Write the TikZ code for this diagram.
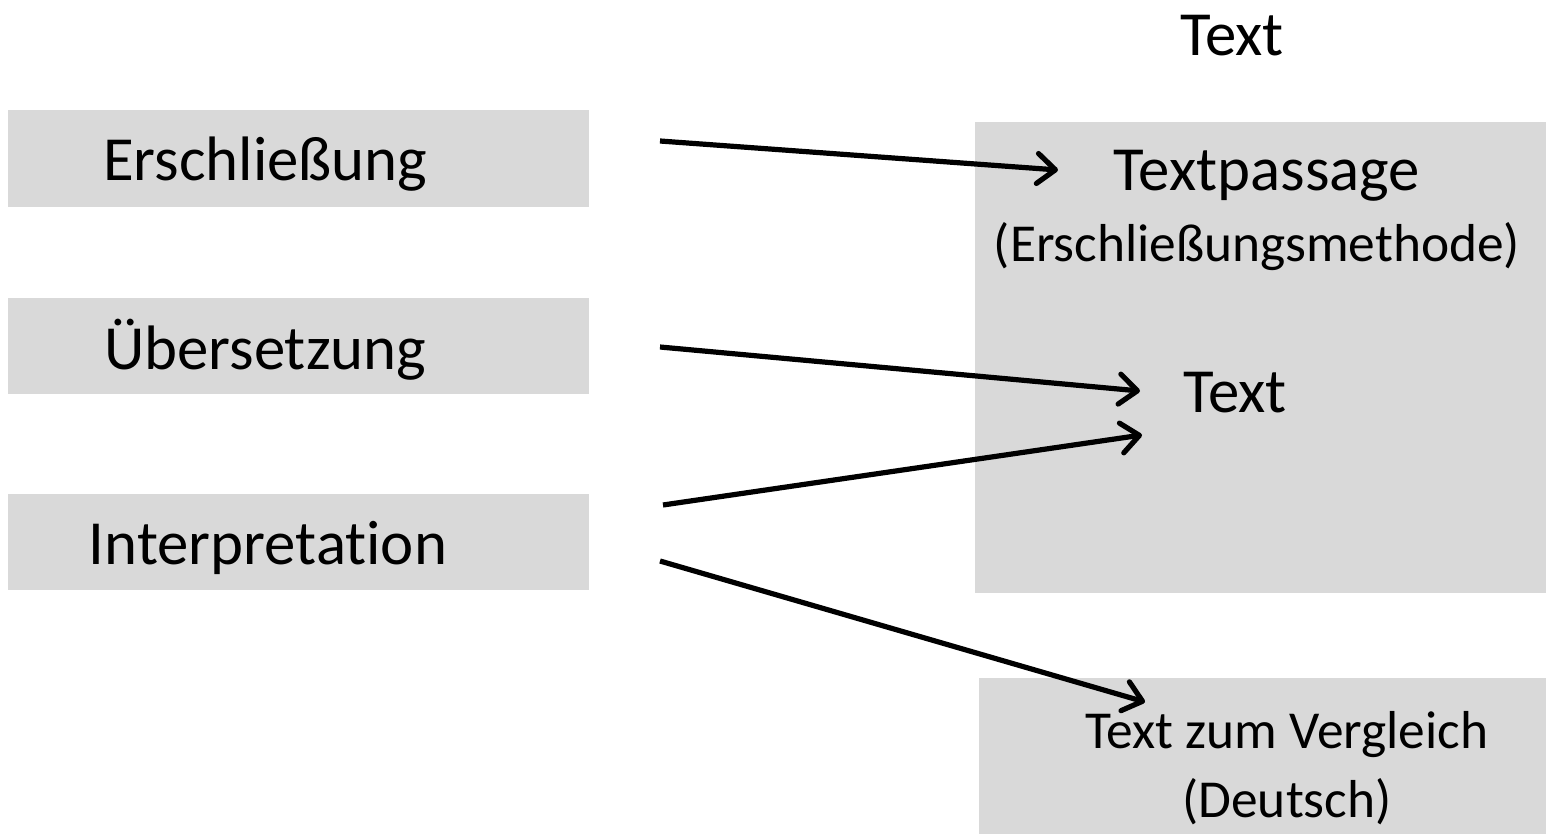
\documentclass[tikz,border=0pt]{standalone}
\usepackage{fontspec}
\setmainfont[Ligatures={NoCommon}]{Carlito}
\usetikzlibrary{arrows.meta}
\begin{document}
\begin{tikzpicture}[x=0.5pt,y=-0.5pt,
  box/.style={fill=boxgray,draw=none,inner sep=0pt,anchor=north west},
  big/.style={font=\fontsize{31.4}{36}\selectfont,inner sep=0pt},
  small/.style={font=\fontsize{26.7}{32}\selectfont,inner sep=0pt},
  conn/.style={line width=2.6pt,-{Straight Barb[length=9pt,width=15pt,line width=2.6pt,round]}}]
\definecolor{boxgray}{RGB}{217,217,217}
\path[use as bounding box] (0,0) rectangle (1546,834);
% left boxes
\node[box,minimum width=581*0.5pt,minimum height=97*0.5pt] (b1) at (8,110) {};
\node[box,minimum width=581*0.5pt,minimum height=96*0.5pt] (b2) at (8,298) {};
\node[box,minimum width=581*0.5pt,minimum height=96*0.5pt] (b3) at (8,494) {};
\node[big] (t1) at (265,164) {Erschließung};
\node[big] (t2) at (265,350) {Übersetzung};
\node[big] (t3) at (268,548) {Interpretation};
% right boxes
\node[box,minimum width=571*0.5pt,minimum height=471*0.5pt] (rb) at (975,122) {};
\node[box,minimum width=567*0.5pt,minimum height=156*0.5pt] (bb) at (979,678) {};
\node[big] (top) at (1232,36) {Text};
\node[big] (tp) at (1267,176) {Textpassage};
\node[small] (em) at (1257,247) {(Erschließungsmethode)};
\node[big] (tx) at (1235,393) {Text};
\node[small] (tv) at (1287,735) {Text zum Vergleich};
\node[small] (de) at (1287,802) {(Deutsch)};
% connector ends
\coordinate (s1) at (660,141);
\coordinate (e1) at (1058,170);
\coordinate (s2) at (660,347);
\coordinate (e2) at (1140,391);
\coordinate (s3) at (663,505);
\coordinate (e3) at (1142,435);
\coordinate (s4) at (660,561);
\coordinate (e4) at (1145,702);
\draw[conn] (s1) -- (e1);
\draw[conn] (s2) -- (e2);
\draw[conn] (s3) -- (e3);
\draw[conn] (s4) -- (e4);
\end{tikzpicture}
\end{document}
